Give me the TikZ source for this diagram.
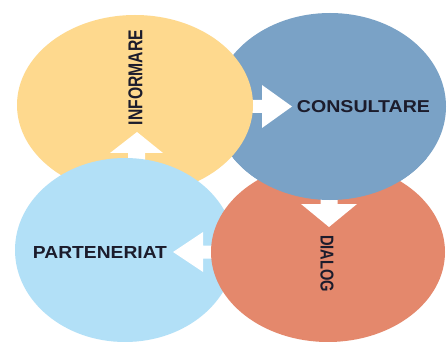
\documentclass[tikz,border=0pt]{standalone}
\usepackage{fontspec}
\setmainfont{Liberation Sans}
\usetikzlibrary{shapes.geometric}
\definecolor{cyel}{HTML}{FED98E}
\definecolor{cblue}{HTML}{7AA2C6}
\definecolor{clblue}{HTML}{B2E0F7}
\definecolor{corange}{HTML}{E4886C}
\definecolor{labc}{HTML}{1C1C2C}
\tikzset{
  blob/.style={ellipse, inner sep=0pt, outer sep=0pt, draw=none},
  lab/.style={inner sep=0pt, outer sep=0pt, text=labc, font=\bfseries},
  blockarrow/.style={fill=white, draw=none},
}
\begin{document}
\begin{tikzpicture}[x=1pt,y=-1pt]
\fill[white] (0,0) rectangle (447,342);
\useasboundingbox (0,0) rectangle (447,342);
% CONSULTARE
\node[blob, fill=cblue, minimum width=232pt, minimum height=187pt] (cons) at (330,106.5) {};
% arrow INFORMARE -> CONSULTARE
\fill[blockarrow] (292,106.5) -- (262,85) -- (262,100) -- (240,100) -- (240,113) -- (262,113) -- (262,128) -- cycle;
% INFORMARE
\node[blob, fill=cyel, minimum width=236pt, minimum height=180pt] (inf) at (135,105) {};
% arrow PARTENERIAT -> INFORMARE
\fill[blockarrow] (137,132) -- (110,153) -- (128,153) -- (128,178) -- (145,178) -- (145,153) -- (163,153) -- cycle;
% PARTENERIAT
\node[blob, fill=clblue, minimum width=220pt, minimum height=184pt] (part) at (125,250) {};
% arrow DIALOG -> PARTENERIAT
\fill[blockarrow] (173,252) -- (203,232) -- (203,245.5) -- (228,245.5) -- (228,258.5) -- (203,258.5) -- (203,272) -- cycle;
% DIALOG
\node[blob, fill=corange, minimum width=234pt, minimum height=180pt] (dial) at (328,252) {};
% arrow CONSULTARE -> DIALOG
\fill[blockarrow] (329,227) -- (301,204) -- (320.5,204) -- (320.5,182) -- (337.5,182) -- (337.5,204) -- (357,204) -- cycle;
% CONSULTARE again over DIALOG
\begin{scope}
  \clip (0,158) rectangle (447,342);
  \fill[cblue] (cons.center) ellipse [x radius=116pt, y radius=93.5pt];
\end{scope}
% labels
\node[lab, rotate=90] (tinf) at (135.5,77.5) {\resizebox{95pt}{14pt}{INFORMARE}};
\node[lab] (tcons) at (363.5,107) {\resizebox{133pt}{12pt}{CONSULTARE}};
\node[lab] (tpart) at (100,252.5) {\resizebox{134pt}{12pt}{PARTENERIAT}};
\node[lab, rotate=-90] (tdial) at (327,263.5) {\resizebox{57pt}{13pt}{DIALOG}};
\end{tikzpicture}
\end{document}
